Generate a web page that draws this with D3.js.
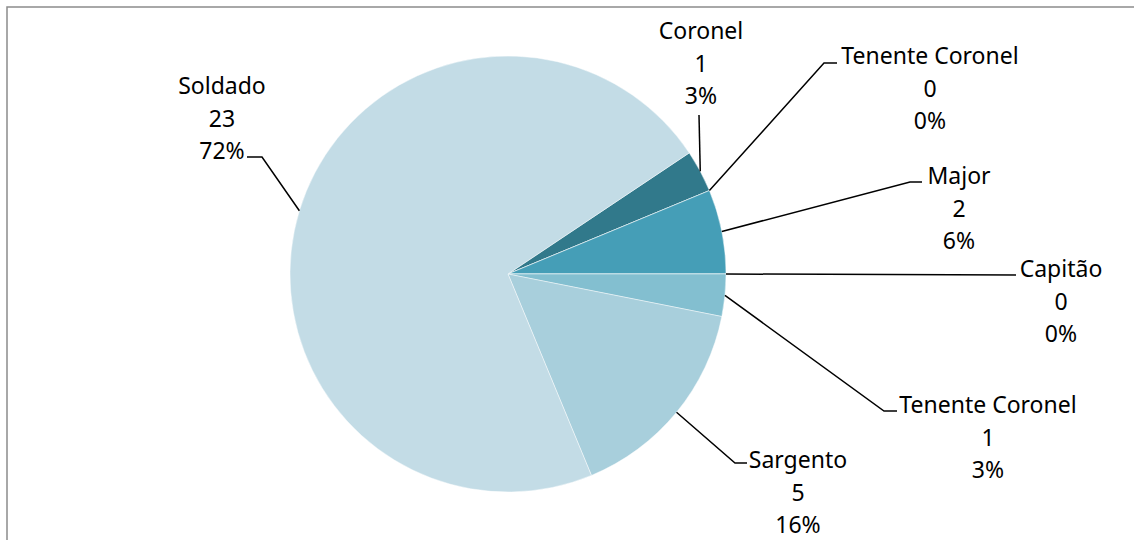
<!DOCTYPE html>
<html>
<head>
<meta charset="utf-8">
<script src="https://cdn.jsdelivr.net/npm/d3@7"></script>
<style>
  html, body { margin: 0; padding: 0; background: #fff; }
  svg { display: block; }
  text { font-family: "Noto Sans", "Open Sans", sans-serif; font-size: 23px; fill: #000; }
</style>
</head>
<body>
<svg id="chart" width="1134" height="540"></svg>
<script>
// Patentes (ranks) and head counts, in the order the slices are laid out clockwise
const categories = ["Coronel", "Tenente Coronel", "Major", "Capitão", "Tenente Coronel", "Sargento", "Soldado"];
const counts = [1, 0, 2, 0, 1, 5, 23];
const colors = ["#31798b", "#3b8ca3", "#459eb7", "#3f97ae", "#83bfd0", "#a8cfdc", "#c3dce6"];

// Label placement: text centre x, first line centre y, leader elbow and leader end
const labelLayout = [
  { cx: 701,  cy: 30,  elbow: null,       end: [699, 115] },
  { cx: 930,  cy: 55,  elbow: [824, 63],  end: [837, 63] },
  { cx: 959,  cy: 175, elbow: [910, 182], end: [922, 182] },
  { cx: 1061, cy: 268, elbow: null,       end: [1016, 275] },
  { cx: 988,  cy: 404, elbow: [884, 411], end: [897, 411] },
  { cx: 798,  cy: 459, elbow: [735, 463], end: [747, 463] },
  { cx: 222,  cy: 85,  elbow: [262, 157], end: [247, 157] }
];

const svg = d3.select("#chart");
const cx = 508, cy = 274, radius = 218;
const lineGap = 32.5;

// Chart area frame
svg.append("rect")
  .attr("x", 7).attr("y", 7)
  .attr("width", 1140).attr("height", 545)
  .attr("fill", "#fff")
  .attr("stroke", "#8c8c8c")
  .attr("stroke-width", 1.5);

const total = d3.sum(counts);
const data = categories.map((c, i) => ({ name: c, value: counts[i], color: colors[i], layout: labelLayout[i] }));

const startAngle = 56.25 * Math.PI / 180;
const pie = d3.pie()
  .value(d => d.value)
  .sort(null)
  .startAngle(startAngle)
  .endAngle(startAngle + 2 * Math.PI);

const arcs = pie(data);
const arc = d3.arc().innerRadius(0).outerRadius(radius);

const g = svg.append("g").attr("transform", `translate(${cx},${cy})`);

g.selectAll("path.slice")
  .data(arcs)
  .join("path")
  .attr("class", "slice")
  .attr("d", arc)
  .attr("fill", d => d.data.color)
  .attr("stroke", "#ffffff")
  .attr("stroke-opacity", 0.6)
  .attr("stroke-width", 0.75);

// Leader lines from each slice's mid-angle on the rim
const rimPoint = d => {
  const a = (d.startAngle + d.endAngle) / 2;
  return [cx + radius * Math.sin(a), cy - radius * Math.cos(a)];
};

svg.selectAll("polyline.leader")
  .data(arcs)
  .join("polyline")
  .attr("class", "leader")
  .attr("fill", "none")
  .attr("stroke", "#000")
  .attr("stroke-width", 1.5)
  .attr("points", d => {
    const L = d.data.layout;
    const pts = [rimPoint(d)];
    if (L.elbow) pts.push(L.elbow);
    pts.push(L.end);
    return pts.map(p => p.join(",")).join(" ");
  });

// Data labels: category, value and percentage
const pct = v => Math.round(v / total * 100) + "%";

const labels = svg.selectAll("text.lbl")
  .data(arcs)
  .join("text")
  .attr("class", "lbl")
  .attr("text-anchor", "middle");

labels.each(function(d) {
  const L = d.data.layout;
  const t = d3.select(this);
  [d.data.name, String(d.data.value), pct(d.data.value)].forEach((s, i) => {
    t.append("tspan")
      .attr("x", L.cx)
      .attr("y", L.cy + i * lineGap)
      .attr("dominant-baseline", "central")
      .text(s);
  });
});
</script>
</body>
</html>
